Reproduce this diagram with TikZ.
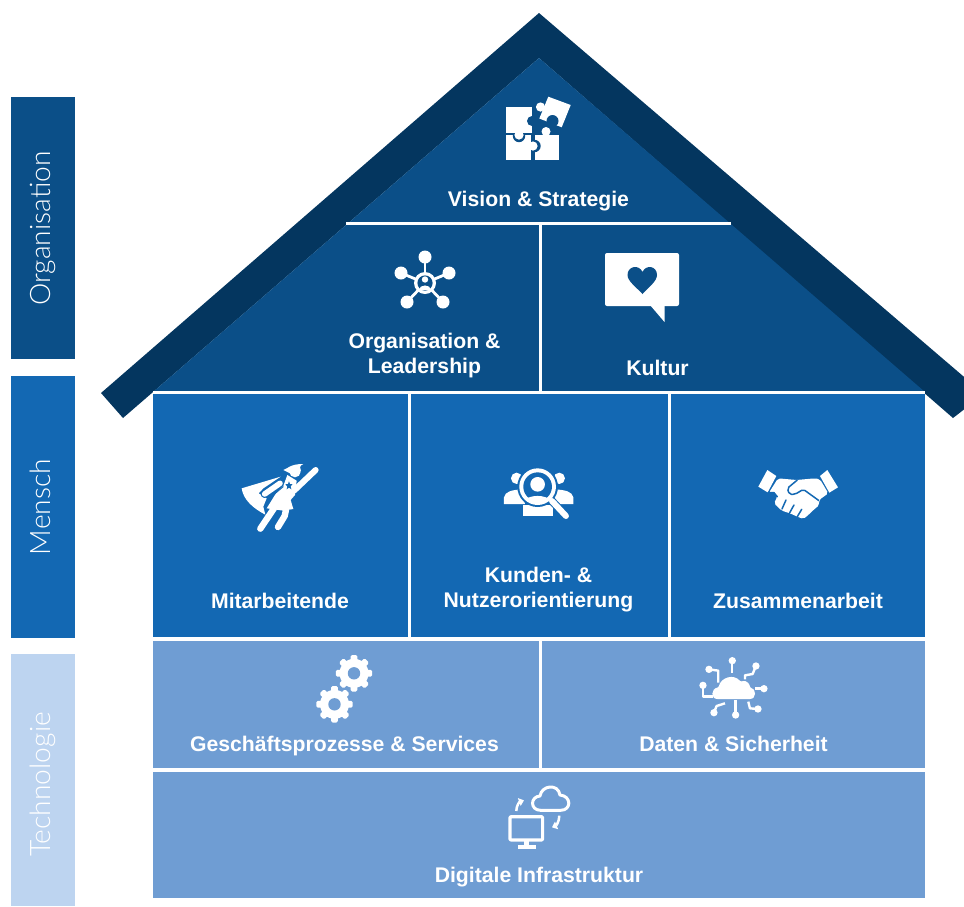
\documentclass[tikz,border=0pt]{standalone}
\usepackage{fontspec}
\setmainfont{Liberation Sans}
\newfontfamily\lightfont{Lato Light}
\usetikzlibrary{arrows.meta}
\definecolor{roofc}{HTML}{04365F}
\definecolor{orgc}{HTML}{0B4F88}
\definecolor{menc}{HTML}{1368B3}
\definecolor{tecc}{HTML}{6F9DD3}
\definecolor{sidec}{HTML}{BDD4F0}
\tikzset{
  lbl/.style={text=white,font=\fontsize{21.2}{25}\selectfont\bfseries,align=center,inner sep=0pt},
  side/.style={text=white,font=\lightfont\fontsize{28.2}{30}\selectfont,rotate=90,inner sep=0pt,anchor=base},
  wl/.style={draw=white,line width=3pt},
  il/.style={draw=white,line cap=round,line join=round,fill=none}
}
\newcommand{\gearicon}[2]{%
  \foreach \a in {0,45,...,315}{
    \fill[white,rounded corners=1.5pt,shift={(#1,#2)},rotate=\a] (-3.4,-18.2) rectangle (3.4,0);
  }
  \fill[white] (#1,#2) circle[radius=14.5];
  \fill[tecc] (#1,#2) circle[radius=6.2];
}
\begin{document}
\begin{tikzpicture}[x=1pt,y=-1pt]
\useasboundingbox (0,0) rectangle (964,906);
% side bars
\fill[orgc] (11,97) rectangle (75,359);
\fill[menc] (11,376) rectangle (75,638);
\fill[sidec] (11,654) rectangle (75,906);
\node[side] (sOrg) at (50,228.5) {Organisation};
\node[side] (sMen) at (50,507) {Mensch};
\node[side] (sTec) at (50,784.5) {Technologie};
% roof
\begin{scope}
\clip (0,0) rectangle (964,906);
\fill[roofc] (539,13) -- (101,393) -- (123,418) -- (539,58) -- (953,418) -- (984,394) -- cycle;
\end{scope}
\fill[orgc] (539,58) -- (153,392) -- (925,392) -- cycle;
% panels
\fill[menc] (153,394) rectangle (925,637);
\fill[tecc] (153,641) rectangle (925,768);
\fill[tecc] (153,772) rectangle (925,898);
\draw[wl] (346,223.5) -- (731,223.5);
\draw[wl] (540,223.5) -- (540,392);
\draw[wl] (153,392.5) -- (925,392.5);
\draw[wl] (409.5,393) -- (409.5,637);
\draw[wl] (669.5,393) -- (669.5,637);
\draw[wl] (540,641) -- (540,768);
% labels
\node[lbl,anchor=base] (vision) at (538.5,206) {Vision \& Strategie};
\node[lbl] (orgl) at (424.5,356) {Organisation \&\\Leadership};
\node[lbl,anchor=base] (kultur) at (657.5,375) {Kultur};
\node[lbl,anchor=base] (mit) at (280,608.5) {Mitarbeitende};
\node[lbl] (kund) at (538.5,589.5) {Kunden- \&\\Nutzerorientierung};
\node[lbl,anchor=base] (zus) at (798,608.5) {Zusammenarbeit};
\node[lbl,anchor=base] (gesch) at (344.5,751.5) {Geschäftsprozesse \& Services};
\node[lbl,anchor=base] (daten) at (733.5,751.5) {Daten \& Sicherheit};
\node[lbl,anchor=base] (dig) at (539,882.5) {Digitale Infrastruktur};
% puzzle icon
\fill[white] (535,135) rectangle (559,160);
\fill[orgc] (534.5,146) circle[radius=6.2];
\fill[white] (506,135) rectangle (531,160);
\fill[white] (533,146) circle[radius=4.6];
\fill[orgc] (519,136) circle[radius=6.2];
\fill[white] (506,107) rectangle (532,133);
\fill[white] (519,135) circle[radius=4.6];
\fill[orgc] (532,121) circle[radius=5];
\fill[white] (548.3,96.7) -- (570.7,105) -- (561.7,127.3) -- (539.3,118.5) -- cycle;
\fill[white] (540.5,107) circle[radius=4.6];
\fill[orgc] (552.5,121) circle[radius=6];
\fill[white] (546,131.5) circle[radius=4.5];
% network icon
\foreach \p in {(425,257),(401,273),(449,273),(407,302),(443,302)}{
  \draw[white,line width=2.8pt] (425,283) -- \p;
  \fill[white] \p circle[radius=6.5];
}
\fill[white] (425,283) circle[radius=11];
\fill[orgc] (425,283) circle[radius=7.6];
\fill[white] (425,279.5) circle[radius=3.2];
\fill[white] (419,289.5) .. controls (419,283.5) and (431,283.5) .. (431,289.5) -- cycle;
% speech bubble with heart
\fill[white,rounded corners=2pt] (605,253) rectangle (679,306);
\fill[white] (650,305) -- (664.5,322) -- (664.5,305) -- cycle;
\fill[orgc] (642.5,294) .. controls (636,287) and (627.5,281) .. (627.5,275) .. controls (627.5,266) and (639,264) .. (642.5,272) .. controls (646,264) and (657,266) .. (657,275) .. controls (657,281) and (649,287) .. (642.5,294) -- cycle;
% superhero icon
\begin{scope}[shift={(200,440)},x=.3333pt,y=-.3333pt]
  \fill[white] (125,145) -- (242,110) -- (190,145) -- (176,160) -- (200,175) -- (190,200) -- (196,224) .. controls (160,205) and (130,180) .. (125,145) -- cycle;
  \draw[menc,line width=8pt,line cap=round] (194,162) -- (240,130);
  \fill[white] (285,95) circle[radius=17];
  \fill[white] (250,90) .. controls (265,85) and (270,72) .. (310,72) .. controls (296,78) and (300,85) .. (303,92) -- (270,100) -- cycle;
  \draw[white,line width=6pt,line cap=round] (282,152) -- (347,90);
  \fill[white] (262,105) -- (290,122) -- (285,165) -- (272,180) -- (280,207) -- (250,212) -- (200,205) -- (228,160) -- (250,138) -- cycle;
  \draw[white,line width=6.4pt,line cap=round] (222,205) -- (181,266);
  \draw[white,line width=6.4pt,line cap=round,line join=round] (258,210) -- (254,228) -- (234,261);
  \draw[white,line width=5.6pt,line cap=round] (194,162) -- (240,130);
  \draw[menc,line width=.8pt,line cap=round] (205,178) -- (250,140);
  \fill[menc] (267,124) -- (270,132) -- (278,133) -- (272,139) -- (274,148) -- (267,143) -- (260,148) -- (262,139) -- (256,133) -- (264,132) -- cycle;
  % people / magnifier
  \fill[white] (950,115) circle[radius=17];
  \fill[white] (1078,115) circle[radius=17];
  \fill[white] (912,192) -- (912,172) .. controls (915,155) and (935,150) .. (965,148) -- (975,192) -- cycle;
  \fill[white] (1120,192) -- (1120,172) .. controls (1117,155) and (1097,150) .. (1065,148) -- (1060,192) -- cycle;
  \fill[white] (970,228) -- (970,195) -- (1060,195) -- (1060,228) -- cycle;
  \fill[menc] (1013,140) circle[radius=61];
  \draw[menc,line width=8pt,line cap=round] (1056,183) -- (1096,226);
  \draw[white,line width=6pt,line cap=round] (1056,183) -- (1098,228);
  \fill[white] (1013,140) circle[radius=55];
  \fill[menc] (1013,140) circle[radius=43];
  \begin{scope}
    \clip (1013,140) circle[radius=50];
    \fill[white] (1013,133) circle[radius=22];
    \fill[white] (970,185) .. controls (985,162) and (1040,162) .. (1056,185) -- (1050,200) -- (975,200) -- cycle;
  \end{scope}
\end{scope}
% handshake icon
\begin{scope}[shift={(700,450)},x=.3333pt,y=-.3333pt]
  \fill[white] (202,60) -- (229,78) -- (203,127) -- (175,110) -- cycle;
  \fill[white] (382,60) -- (414,112) -- (388,128) -- (360,78) -- cycle;
  \fill[white,rounded corners=2pt] (234,85) -- (290,90) -- (345,85) -- (360,88) -- (385,130) -- (357,150) -- (358,165) -- (338,182) -- (325,195) -- (310,207) -- (292,200) -- (270,190) -- (245,182) -- (222,160) -- (232,140) -- (207,128) -- cycle;
  \draw[menc,line width=1.4pt,line join=round,fill=menc] (205,128) -- (232,140) -- (222,128) -- cycle;
  \draw[menc,line width=1.5pt,line join=round,rounded corners=2pt] (292,90) -- (262,115) -- (268,133) -- (285,133) -- (310,118) -- (357,152);
  \draw[menc,line width=1.5pt,line cap=round] (246,177) -- (258,150);
  \draw[menc,line width=1.5pt,line cap=round] (268,190) -- (282,165);
  \draw[menc,line width=1.5pt,line cap=round] (292,200) -- (305,178);
\end{scope}
% gears
\gearicon{354}{673.3}
\gearicon{334.5}{704.3}
% cloud with links, and cloud with monitor
\begin{scope}[shift={(300,650)},x=.3333pt,y=-.3333pt]
  \fill[white,rounded corners=1pt] (1255,147) .. controls (1232,147) and (1232,116) .. (1256,112) .. controls (1262,82) and (1302,70) .. (1322,95) .. controls (1345,88) and (1350,108) .. (1349,112) .. controls (1370,116) and (1370,147) .. (1347,147) -- cycle;
  \foreach \p/\q in {1297/32,1368/48,1392/116,1374/177,1307/195,1242/188,1209/106,1227/58}{
    \fill[white] (\p,\q) circle[radius=11];
  }
  \tikzset{cl/.style={draw=white,line width=2.4pt,line join=round,fill=none}}
  \draw[cl] (1297,32) -- (1297,70);
  \draw[cl] (1368,48) -- (1358,72) -- (1335,76) -- (1335,88);
  \draw[cl] (1392,116) -- (1365,116);
  \draw[cl] (1374,177) -- (1350,175) -- (1345,155);
  \draw[cl] (1307,195) -- (1307,150);
  \draw[cl] (1242,188) -- (1250,168) -- (1275,160);
  \draw[cl] (1209,106) -- (1209,140) -- (1240,140);
  \draw[cl] (1227,58) -- (1255,62) -- (1255,98);
  % monitor
  \draw[il,line width=3.2pt,rounded corners=1pt] (630,500) rectangle (728,570);
  \fill[white] (672,572) rectangle (688,592);
  \fill[white] (653,585) rectangle (707,596);
  % cloud outline
  \draw[il,line width=3pt] (722,481) .. controls (690,481) and (690,440) .. (720,438) .. controls (725,405) and (775,400) .. (780,435) .. controls (815,438) and (815,481) .. (782,481) -- cycle;
  \draw[white,line width=2.5pt,-{Triangle[width=8pt,length=5pt]}] (649,483) .. controls (649,468) and (658,456) .. (672,451);
  \draw[white,line width=2.5pt,-{Triangle[width=8pt,length=5pt]}] (778,497) .. controls (778,515) and (768,527) .. (756,532);
\end{scope}
\end{tikzpicture}
\end{document}
